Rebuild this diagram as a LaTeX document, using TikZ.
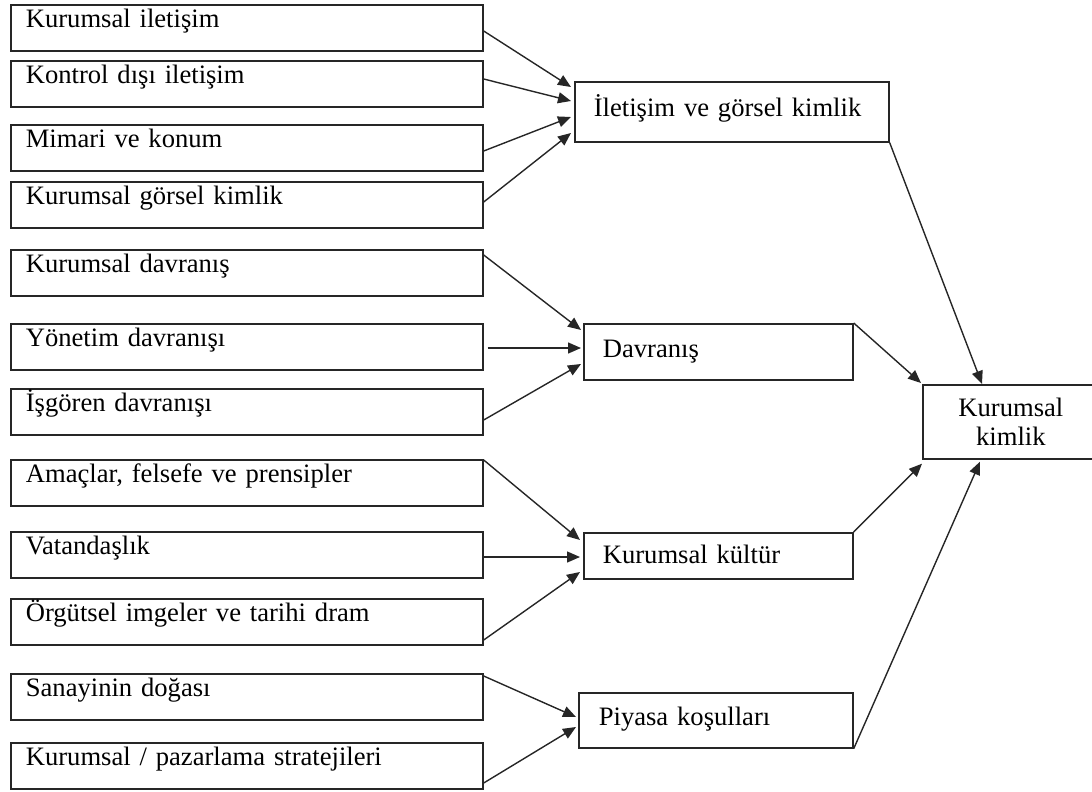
\documentclass[tikz,border=0pt]{standalone}
\usepackage{fontspec}
\setmainfont[WordSpace=0.8]{Liberation Serif}
\usetikzlibrary{arrows.meta,calc}
\begin{document}
\begin{tikzpicture}[x=1pt,y=-1pt,
  lbl/.style={font=\fontsize{26.6pt}{29pt}\selectfont},
  frame/.style={draw=black!85, line width=1.7pt},
  srcbox/.style={frame, anchor=north west, inner xsep=15pt, inner ysep=0pt,
    text width=442pt, align=left, text height=23pt, text depth=23pt, lbl},
  midbox/.style={frame, anchor=north west, inner ysep=0pt, align=left, lbl},
  link/.style={draw=black!85, line width=1.4pt, -{Triangle[length=13pt,width=11pt]}},
]
\useasboundingbox (0,0) rectangle (1092,792);
\clip (0,0) rectangle (1092,792);

% source boxes (left column)
\node[srcbox] (b1)  at (10,4)   {Kurumsal iletişim};
\node[srcbox] (b2)  at (10,60)  {Kontrol dışı iletişim};
\node[srcbox] (b3)  at (10,124) {Mimari ve konum};
\node[srcbox] (b4)  at (10,181) {Kurumsal görsel kimlik};
\node[srcbox] (b5)  at (10,249) {Kurumsal davranış};
\node[srcbox] (b6)  at (10,323) {Yönetim davranışı};
\node[srcbox] (b7)  at (10,388) {İşgören davranışı};
\node[srcbox] (b8)  at (10,459) {Amaçlar, felsefe ve prensipler};
\node[srcbox] (b9)  at (10,531) {Vatandaşlık};
\node[srcbox] (b10) at (10,598) {Örgütsel imgeler ve tarihi dram};
\node[srcbox] (b11) at (10,673) {Sanayinin doğası};
\node[srcbox] (b12) at (10,742) {Kurumsal / pazarlama stratejileri};

% intermediate boxes
\node[midbox, inner xsep=19pt, text width=276pt, text height=35pt, text depth=25pt] (ilet) at (574,81) {İletişim ve görsel kimlik};
\node[midbox, inner xsep=19pt, text width=231pt, text height=34pt, text depth=22pt] (dav) at (583,323) {Davranış};
\node[midbox, inner xsep=19pt, text width=231pt, text height=31pt, text depth=15pt] (kul) at (583,532) {Kurumsal kültür};
\node[midbox, inner xsep=20pt, text width=234pt, text height=33pt, text depth=22pt] (piy) at (578,692) {Piyasa koşulları};

% result box, running off the right edge
\node[frame, anchor=north west, minimum width=176pt, minimum height=74pt,
  inner sep=0pt, align=center, lbl] (kim) at (922,384) {Kurumsal\\kimlik};

% communication and visual identity
\draw[link] ($(b1.north east)+(0,27)$) -- ($(ilet.north west)+(-3,6)$);
\draw[link] ($(b2.north east)+(0,19)$) -- ($(ilet.north west)+(-3,20)$);
\draw[link] ($(b3.north east)+(0,27)$) -- ($(ilet.north west)+(-3,36)$);
\draw[link] ($(b4.north east)+(0,21)$) -- ($(ilet.north west)+(-3,52)$);

% behaviour
\draw[link] ($(b5.north east)+(0,6)$)  -- ($(dav.north west)+(-2,7)$);
\draw[link] ($(b6.north east)+(4,25)$) -- ($(dav.north west)+(-2,25)$);
\draw[link] ($(b7.north east)+(0,32)$) -- ($(dav.north west)+(-2,41)$);

% corporate culture
\draw[link] ($(b8.north east)+(0,1)$)   -- ($(kul.north west)+(-3,8)$);
\draw[link] ($(b9.north east)+(0,26)$)  -- ($(kul.north west)+(-3,25)$);
\draw[link] ($(b10.north east)+(0,42)$) -- ($(kul.north west)+(-3,40)$);

% market conditions
\draw[link] ($(b11.north east)+(0,3)$)  -- ($(piy.north west)+(-2,25)$);
\draw[link] ($(b12.north east)+(0,41)$) -- ($(piy.north west)+(-2,35)$);

% into corporate identity
\draw[link] (ilet.south east) -- ($(kim.north west)+(60,0)$);
\draw[link] (dav.north east)  -- ($(kim.north west)+(-1,-1)$);
\draw[link] (kul.north east)  -- ($(kim.south west)+(0,4)$);
\draw[link] (piy.south east)  -- ($(kim.south west)+(58,2)$);
\end{tikzpicture}
\end{document}
